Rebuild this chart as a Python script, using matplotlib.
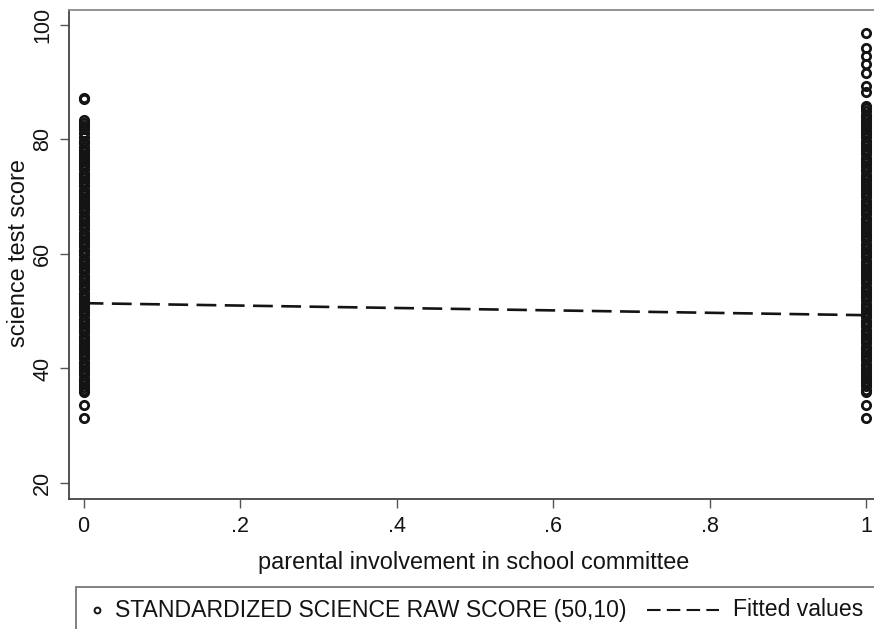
import matplotlib
matplotlib.use("Agg")
import matplotlib.pyplot as plt
from matplotlib.lines import Line2D
from matplotlib.patches import Rectangle

plt.rcParams['font.family'] = ['Liberation Sans', 'DejaVu Sans']

# science scores, parents not on the school committee (x = 0)
score_no = [87.3, 87.0, 83.4, 82.9, 82.4, 81.8, 81.2, 80.5, 79.8, 79.3, 78.7, 78.2,
            77.8, 77.2, 76.8, 76.3, 75.7, 75.3, 74.8, 74.2, 73.8, 73.3, 72.7, 72.3,
            71.8, 71.2, 70.8, 70.3, 69.7, 69.3, 68.8, 68.2, 67.8, 67.3, 66.7, 66.3,
            65.8, 65.2, 64.8, 64.3, 63.7, 63.3, 62.8, 62.2, 61.8, 61.3, 60.7, 60.3,
            59.8, 59.2, 58.8, 58.3, 57.7, 57.3, 56.8, 56.2, 55.8, 55.3, 54.7, 54.3,
            53.8, 53.2, 52.8, 52.3, 51.7, 51.3, 50.8, 50.2, 49.8, 49.3, 48.7, 48.3,
            47.8, 47.2, 46.8, 46.3, 45.7, 45.3, 44.8, 44.2, 43.8, 43.3, 42.7, 42.3,
            41.8, 41.2, 40.8, 40.3, 39.7, 39.3, 38.8, 38.2, 37.8, 37.3, 36.7, 36.3,
            35.9, 33.7, 31.4]

# science scores, parents on the school committee (x = 1)
score_yes = [98.5, 95.9, 94.5, 93.1, 91.6, 89.3, 88.2, 85.9, 85.4, 84.9, 84.3, 83.9,
             83.4, 82.8, 82.4, 81.9, 81.3, 80.9, 80.4, 79.8, 79.4, 78.9, 78.3, 77.9,
             77.4, 76.8, 76.4, 75.9, 75.3, 74.9, 74.4, 73.8, 73.4, 72.9, 72.3, 71.9,
             71.4, 70.8, 70.4, 69.9, 69.3, 68.9, 68.4, 67.8, 67.4, 66.9, 66.3, 65.9,
             65.4, 64.8, 64.4, 63.9, 63.3, 62.9, 62.4, 61.8, 61.4, 60.9, 60.3, 59.9,
             59.4, 58.8, 58.4, 57.9, 57.3, 56.9, 56.4, 55.8, 55.4, 54.9, 54.3, 53.9,
             53.4, 52.8, 52.4, 51.9, 51.3, 50.9, 50.4, 49.8, 49.4, 48.9, 48.3, 47.9,
             47.4, 46.8, 46.4, 45.9, 45.3, 44.9, 44.4, 43.8, 43.4, 42.9, 42.3, 41.9,
             41.4, 40.8, 40.4, 39.9, 39.3, 38.9, 38.4, 37.8, 37.4, 36.9, 36.3, 35.8,
             33.6, 31.4]

# linear fit of score on committee involvement
fit_x = [0, 1]
fit_y = [51.4, 49.3]

xticks = [0, 0.2, 0.4, 0.6, 0.8, 1]
xtick_labels = ['0', '.2', '.4', '.6', '.8', '1']
yticks = [20, 40, 60, 80, 100]

W, H = 874, 629
fig = plt.figure(figsize=(W / 100, H / 100), dpi=100)
ax = fig.add_axes([69 / W, 1 - 499 / H, (880 - 69) / W, (499 - 10) / H])

ink = '#141414'
mk = dict(linestyle='none', marker='o', ms=6.0, mew=2.0, mfc='none', mec=ink)
ax.plot([0] * len(score_no), score_no, **mk)
ax.plot([1] * len(score_yes), score_yes, **mk)
ax.plot(fit_x, fit_y, color=ink, lw=1.9, linestyle=(0, (7.5, 3.2)))

ax.set_xlim(-0.0187, 1.0179)
ax.set_ylim(17.2, 102.6)
ax.set_xticks(xticks)
ax.set_xticklabels(xtick_labels)
ax.set_yticks(yticks)
ax.set_yticklabels([str(v) for v in yticks], rotation=90, va='center')

ax.tick_params(axis='both', direction='out', length=6.5, width=1.0,
               color='#555555', labelsize=15.5, labelcolor=ink)
ax.tick_params(axis='x', pad=6)
ax.tick_params(axis='y', pad=5)

for side in ('left', 'bottom'):
    ax.spines[side].set_color('#444444')
    ax.spines[side].set_linewidth(1.3)
ax.spines['top'].set_color('#8a8a8a')
ax.spines['top'].set_linewidth(1.3)
ax.spines['right'].set_visible(False)

ax.set_xlabel('parental involvement in school committee', fontsize=16.9, color=ink, va='center')
ax.xaxis.set_label_coords(0.4994, -0.129)
ax.set_ylabel('science test score', fontsize=16.9, color=ink, va='center')
ax.yaxis.set_label_coords(-0.0623, 0.502)

# legend box running off the lower right corner
fig.patches.append(Rectangle((76 / W, -0.1), 1.0, (629 - 587) / H + 0.1,
                             transform=fig.transFigure, fill=False,
                             ec='#777777', lw=1.3))
ly = 1 - 610 / H
fig.add_artist(Line2D([97 / W], [ly], transform=fig.transFigure, linestyle='none',
                      marker='o', ms=4.2, mew=1.4, mfc='none', mec=ink))
fig.text(115 / W, ly, 'STANDARDIZED SCIENCE RAW SCORE (50,10)', fontsize=16.6,
         color=ink, va='center', ha='left')
fig.add_artist(Line2D([647 / W, 719 / W], [ly, ly], transform=fig.transFigure,
                      color=ink, lw=1.5, linestyle=(0, (6.5, 3.0))))
fig.text(733 / W, ly, 'Fitted values', fontsize=16.6, color=ink, va='center', ha='left')

fig.savefig('out.png', dpi=100)
